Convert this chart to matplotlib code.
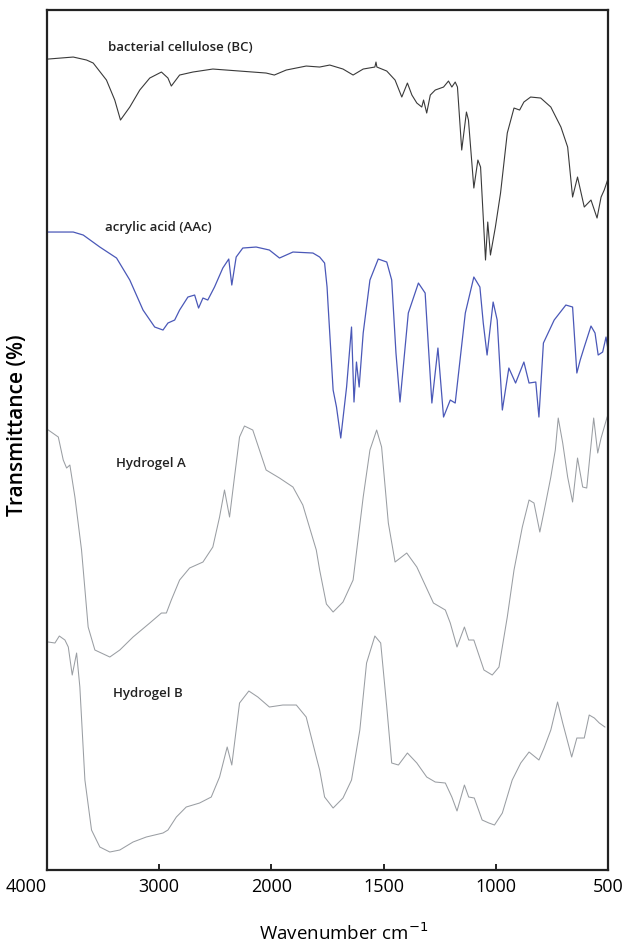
import numpy as np
import matplotlib
matplotlib.use("Agg")
import matplotlib.pyplot as plt

plt.rcParams['font.family'] = ['Open Sans', 'DejaVu Sans']

# FTIR spectra, transmittance in arbitrary units (curves are stacked with offsets)
bc_wn = [3988, 3766, 3647, 3588, 3470, 3396, 3345, 3262, 3173, 3084, 2980, 2922, 2892, 2818,
         2700, 2522, 2284, 2047, 1987, 1934, 1845, 1785, 1740, 1681, 1636, 1591, 1539, 1534,
         1530, 1486, 1449, 1419, 1394, 1374, 1352, 1330, 1322, 1308, 1292, 1270, 1233, 1211,
         1196, 1181, 1171, 1152, 1131, 1122, 1098, 1080, 1068, 1046, 1036, 1024, 1002, 979,
         949, 919, 894, 875, 845, 800, 755, 710, 680, 658, 636, 606, 576, 549, 531, 517, 502]
bc_t = [811, 813, 810, 807, 790, 770, 750, 763, 780, 792, 798, 792, 784, 795,
        798, 801, 799, 797, 795, 800, 804, 803, 805, 801, 795, 801, 803, 808,
        803, 799, 790, 773, 787, 775, 767, 763, 770, 757, 775, 780, 783, 789,
        783, 788, 783, 720, 758, 750, 682, 710, 703, 610, 648, 615, 643, 677,
        737, 762, 760, 768, 773, 772, 763, 743, 723, 673, 693, 663, 670, 652, 673, 680, 690]

aac_wn = [3988, 3766, 3677, 3529, 3380, 3262, 3144, 3040, 2966, 2922, 2862, 2818, 2744, 2684,
          2649, 2610, 2567, 2507, 2433, 2380, 2353, 2314, 2255, 2136, 2018, 1964, 1904, 1815,
          1785, 1763, 1752, 1748, 1725, 1710, 1691, 1665, 1643, 1632, 1621, 1609, 1591, 1561,
          1524, 1486, 1464, 1445, 1427, 1390, 1345, 1315, 1285, 1258, 1233, 1203, 1181, 1136,
          1098, 1071, 1056, 1039, 1012, 994, 971, 942, 912, 875, 852, 822, 808, 788, 740,
          688, 658, 639, 624, 606, 576, 558, 544, 524, 509, 502]
aac_t = [638, 638, 635, 623, 612, 590, 560, 543, 540, 547, 550, 560, 573, 575,
         562, 572, 570, 583, 602, 611, 585, 613, 622, 623, 620, 612, 618, 617,
         613, 607, 583, 567, 480, 463, 432, 483, 543, 468, 508, 483, 537, 590,
         611, 608, 590, 517, 468, 557, 587, 577, 467, 522, 453, 470, 467, 557,
         593, 583, 547, 515, 568, 550, 460, 502, 487, 508, 487, 488, 453, 527, 550,
         565, 563, 497, 510, 523, 544, 537, 515, 518, 533, 523]

hga_wn = [3988, 3899, 3855, 3825, 3796, 3751, 3692, 3633, 3573, 3440, 3351, 3233, 3084, 2980,
          2936, 2892, 2818, 2729, 2610, 2522, 2462, 2418, 2373, 2329, 2284, 2240, 2166, 2047,
          1964, 1904, 1860, 1800, 1785, 1755, 1725, 1681, 1636, 1591, 1561, 1531, 1509, 1479,
          1449, 1397, 1352, 1278, 1225, 1203, 1173, 1140, 1121, 1098, 1053, 1016, 986, 949,
          919, 882, 852, 830, 804, 784, 755, 735, 722, 702, 680, 658, 636, 613, 595, 564,
          546, 531, 504]
hga_t = [440, 433, 410, 402, 405, 373, 320, 243, 220, 213, 220, 233, 247, 257,
         257, 270, 290, 302, 308, 323, 353, 380, 353, 393, 433, 444, 440, 400,
         392, 383, 365, 320, 300, 266, 258, 268, 290, 373, 420, 440, 423, 347,
         308, 317, 303, 267, 260, 247, 223, 243, 230, 230, 200, 195, 203, 253,
         300, 343, 370, 367, 338, 360, 393, 420, 452, 427, 393, 368, 412, 383, 382, 452,
         417, 432, 453]

hgb_wn = [3988, 3929, 3890, 3840, 3810, 3775, 3736, 3707, 3662, 3603, 3529, 3440, 3351, 3233,
          3115, 2966, 2922, 2847, 2759, 2640, 2536, 2462, 2394, 2353, 2314, 2284, 2201, 2121,
          2018, 1949, 1889, 1845, 1800, 1785, 1763, 1725, 1681, 1643, 1606, 1576, 1539, 1513,
          1486, 1464, 1434, 1394, 1352, 1308, 1270, 1225, 1196, 1173, 1140, 1121, 1096, 1061,
          1031, 1006, 971, 927, 889, 852, 808, 785, 755, 725, 702, 662, 639, 606, 584, 561,
          539, 514]
hgb_t = [228, 227, 234, 230, 223, 195, 217, 183, 90, 40, 23, 18, 20, 28,
         33, 37, 40, 53, 63, 67, 73, 93, 123, 105, 140, 167, 179, 173,
         163, 165, 165, 153, 113, 100, 73, 62, 72, 90, 140, 207, 234, 227,
         163, 107, 105, 117, 107, 93, 88, 87, 73, 59, 85, 73, 72, 50,
         47, 45, 57, 90, 107, 118, 110, 122, 140, 168, 147, 113, 132, 132, 155, 152,
         147, 143]

tick_wn = [4000, 3000, 2000, 1500, 1000, 500]


# usual FTIR axis: scale doubles below 2000 cm-1
def fwd(w):
    w = np.asarray(w, dtype=float)
    return np.where(w >= 2000, w, 2 * w - 2000)


def inv(p):
    p = np.asarray(p, dtype=float)
    return np.where(p >= 2000, p, (p + 2000) / 2)


fig = plt.figure(figsize=(6.23, 9.47), dpi=100)
ax = fig.add_axes([0.0754, 0.0813, 0.9006, 0.9081])
ax.set_xscale('function', functions=(fwd, inv))

ax.plot(bc_wn, bc_t, color='#3a3a3a', lw=0.8)
ax.plot(aac_wn, aac_t, color='#4a58b8', lw=0.9)
ax.plot(hga_wn, hga_t, color='#9a9ea3', lw=0.75)
ax.plot(hgb_wn, hgb_t, color='#9a9ea3', lw=0.75)

ax.set_xlim(4000, 500)
ax.set_ylim(0, 860)
ax.set_xticks(tick_wn)
ax.set_xticklabels([str(t) for t in tick_wn])
ax.set_yticks([])
ax.tick_params(axis='x', direction='in', length=4, width=1.2, labelsize=13, pad=6)
ax.get_xticklabels()[0].set_horizontalalignment('right')
for s in ax.spines.values():
    s.set_linewidth(1.6)
    s.set_color('#222222')

lab = dict(transform=ax.transAxes, fontsize=9.5, fontweight='semibold', color='#222222', va='center')
ax.text(0.109, 0.957, 'bacterial cellulose (BC)', **lab)
ax.text(0.103, 0.747, 'acrylic acid (AAc)', **lab)
ax.text(0.123, 0.473, 'Hydrogel A', **lab)
ax.text(0.118, 0.205, 'Hydrogel B', **lab)

ax.set_xlabel('Wavenumber cm$^{-1}$', fontsize=13.5)
ax.xaxis.set_label_coords(0.529, -0.061)
ax.set_ylabel('Transmittance (%)', fontsize=15, fontweight='semibold')
ax.yaxis.set_label_coords(-0.033, 0.517)

fig.savefig('out.png', dpi=100)
